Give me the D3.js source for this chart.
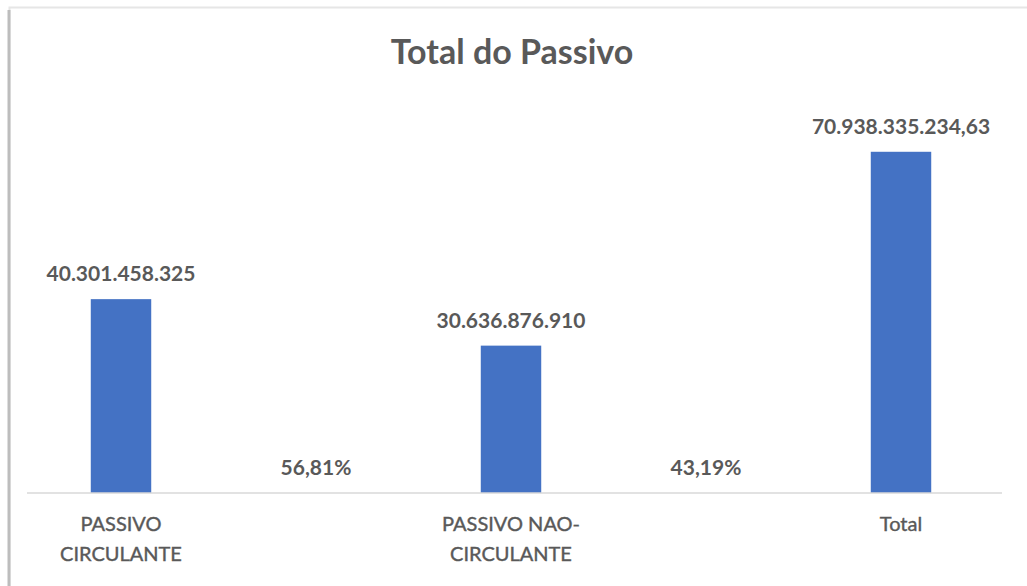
<!DOCTYPE html>
<html>
<head>
<meta charset="utf-8">
<script src="https://cdn.jsdelivr.net/npm/d3@7"></script>
<style>
  html, body { margin: 0; padding: 0; background: #ffffff; }
  svg { display: block; }
  text { font-family: Lato, "Open Sans", sans-serif; fill: #595959; }
</style>
</head>
<body>
<svg id="chart" width="1027" height="586"></svg>
<script>
// Categories along the x axis (the share columns carry no axis label)
const categories = ["PASSIVO CIRCULANTE", "share1", "PASSIVO NAO-CIRCULANTE", "share2", "Total"];
const axisLabels = [["PASSIVO", "CIRCULANTE"], [], ["PASSIVO NAO-", "CIRCULANTE"], [], ["Total"]];
// Column values (shares are fractions, effectively zero height)
const values = [40301458325, 0.5681, 30636876910, 0.4319, 70938335234.63];
// Data labels as printed on the columns
const valueLabels = ["40.301.458.325", "56,81%", "30.636.876.910", "43,19%", "70.938.335.234,63"];

const width = 1027, height = 586;
const svg = d3.select("#chart");

// chart frame
svg.append("rect")
  .attr("x", 9.5).attr("y", 7.5)
  .attr("width", 1030).attr("height", 600)
  .attr("fill", "#ffffff")
  .attr("stroke", "#e6e6e6").attr("stroke-width", 2);
svg.append("line")
  .attr("x1", 9).attr("x2", 9).attr("y1", 10).attr("y2", 586)
  .attr("stroke", "#bdbdbd").attr("stroke-width", 3);

// title
svg.append("text")
  .attr("x", 512).attr("y", 64)
  .attr("text-anchor", "middle")
  .style("font-size", "34px")
  .style("font-weight", "bold")
  .text("Total do Passivo");

const x = d3.scaleBand()
  .domain(categories)
  .range([23.5, 998.5])
  .paddingInner(0.69)
  .paddingOuter(0.345);

const y = d3.scaleLinear()
  .domain([0, 80000000000])
  .range([493, 493 - 80 * 4.81]);

// columns
svg.append("g").selectAll("rect")
  .data(values)
  .join("rect")
  .attr("x", (d, i) => x(categories[i]))
  .attr("width", x.bandwidth())
  .attr("y", d => y(d))
  .attr("height", d => y(0) - y(d))
  .attr("fill", "#4472c4");

// baseline axis
const axis = d3.axisBottom(x).tickSize(0).tickFormat("");
const gx = svg.append("g").attr("transform", `translate(0,${y(0)})`).call(axis);
gx.select(".domain").attr("stroke", "#d9d9d9").attr("stroke-width", 1.5)
  .attr("d", "M27,0H1002");

// category labels (wrapped over two lines)
const lab = svg.append("g");
categories.forEach((c, i) => {
  const t = lab.append("text")
    .attr("x", x(c) + x.bandwidth() / 2)
    .attr("y", 531)
    .attr("text-anchor", "middle")
    .style("font-size", "20px")
    .style("stroke", "#595959")
    .style("stroke-width", "0.4px");
  axisLabels[i].forEach((line, k) => {
    t.append("tspan")
      .attr("x", x(c) + x.bandwidth() / 2)
      .attr("dy", k === 0 ? 0 : 30)
      .text(line);
  });
});

// data labels
svg.append("g").selectAll("text")
  .data(values)
  .join("text")
  .attr("x", (d, i) => x(categories[i]) + x.bandwidth() / 2)
  .attr("y", d => y(d) - 18)
  .attr("text-anchor", "middle")
  .style("font-size", "21px")
  .style("font-weight", "bold")
  .text((d, i) => valueLabels[i]);
</script>
</body>
</html>
